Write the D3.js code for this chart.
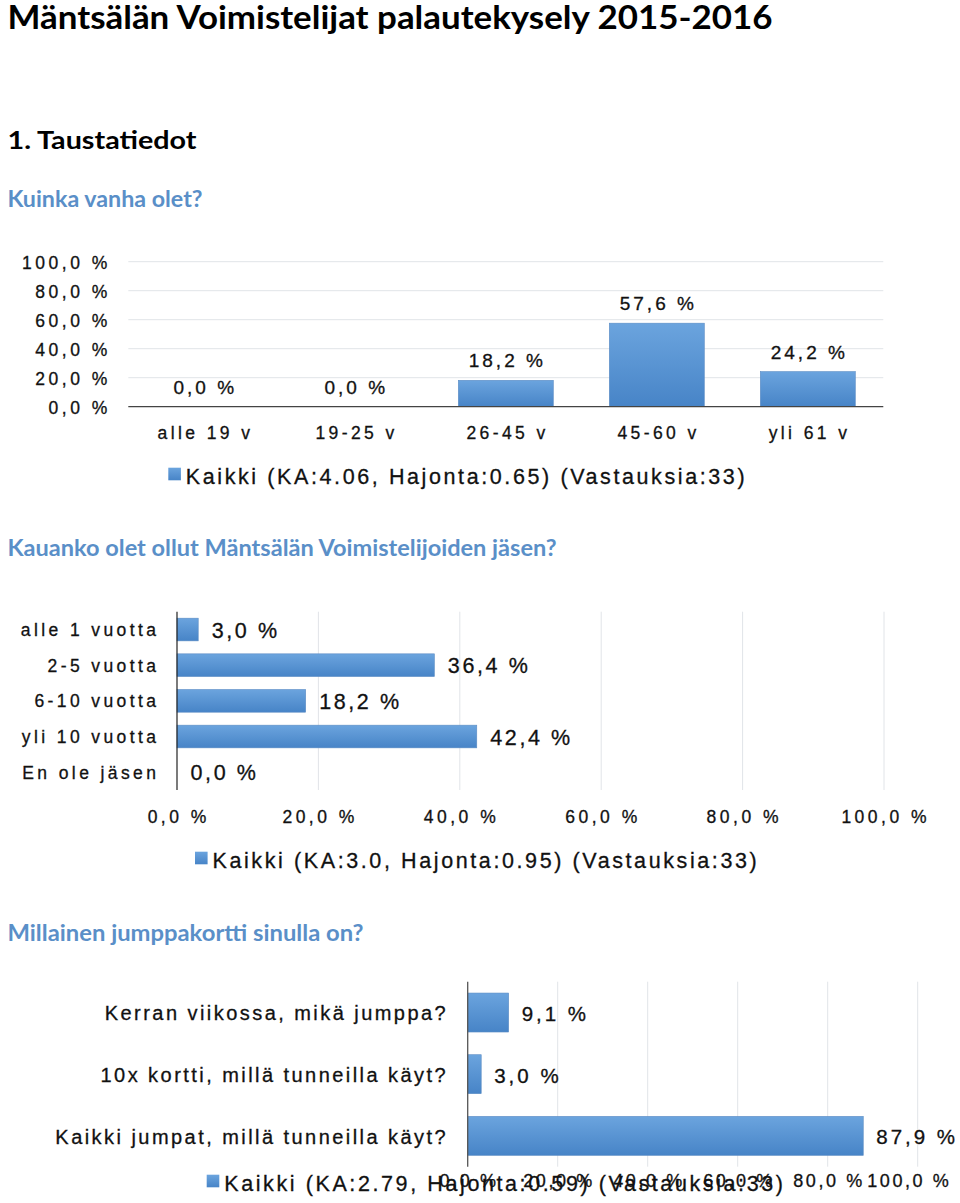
<!DOCTYPE html>
<html>
<head>
<meta charset="utf-8">
<script src="https://cdn.jsdelivr.net/npm/d3@7"></script>
<style>
  html, body { margin: 0; padding: 0; background: #fff; }
  svg { display: block; }
  .hd { font-family: Lato, "Open Sans", sans-serif; font-weight: 700; }
  .ch { font-family: "Liberation Sans", Arial, sans-serif; fill: #111; stroke: #111; stroke-width: 0.3px; }
</style>
</head>
<body>
<svg id="c" width="960" height="1203"></svg>
<script>
// ---------- data ----------
const titleText = "Mäntsälän Voimistelijat palautekysely 2015-2016";
const sectionText = "1.  Taustatiedot";
const q1Text = "Kuinka vanha olet?";
const q2Text = "Kauanko olet ollut Mäntsälän Voimistelijoiden jäsen?";
const q3Text = "Millainen jumppakortti sinulla on?";

const ageCats = ["alle 19 v", "19-25 v", "26-45 v", "45-60 v", "yli 61 v"];
const ageVals = [0.0, 0.0, 18.2, 57.6, 24.2];
const ageTicks = [0, 20, 40, 60, 80, 100];
const ageLegend = "Kaikki (KA:4.06, Hajonta:0.65) (Vastauksia:33)";

const memberCats = ["alle 1 vuotta", "2-5 vuotta", "6-10 vuotta", "yli 10 vuotta", "En ole jäsen"];
const memberVals = [3.0, 36.4, 18.2, 42.4, 0.0];
const memberTicks = [0, 20, 40, 60, 80, 100];
const memberLegend = "Kaikki (KA:3.0, Hajonta:0.95) (Vastauksia:33)";

const cardCats = ["Kerran viikossa, mikä jumppa?", "10x kortti, millä tunneilla käyt?", "Kaikki jumpat, millä tunneilla käyt?"];
const cardVals = [9.1, 3.0, 87.9];
const cardTicks = [0, 20, 40, 60, 80, 100];
const cardLegend = "Kaikki (KA:2.79, Hajonta:0.59) (Vastauksia:33)";

// ---------- helpers ----------
const pct = v => d3.format(".1f")(v).replace(".", ",") + " %";
const svg = d3.select("#c");
const HEAD_BLUE = "#5a8fc8";
const GRID = "#e1e4e8";

const defs = svg.append("defs");
const grad = defs.append("linearGradient").attr("id", "barg").attr("x1", 0).attr("y1", 0).attr("x2", 0).attr("y2", 1);
grad.append("stop").attr("offset", "0%").attr("stop-color", "#6ba4de");
grad.append("stop").attr("offset", "100%").attr("stop-color", "#4784c7");

function heading(text, x, y, size, color, width) {
  const t = svg.append("text").attr("class", "hd").attr("x", x).attr("y", y)
    .attr("font-size", size).attr("fill", color).text(text);
  if (width) t.attr("textLength", width).attr("lengthAdjust", "spacingAndGlyphs");
  return t;
}
function ctext(g, text, x, y, size, ls, anchor) {
  let ax = x;
  if (anchor === "end") ax = x + ls;
  else if (anchor === "middle") ax = x + ls / 2;
  return g.append("text").attr("class", "ch").attr("x", ax).attr("y", y)
    .attr("font-size", size).style("letter-spacing", ls + "px")
    .attr("text-anchor", anchor || "start").text(text);
}
function legend(x, y, text) {
  const g = svg.append("g");
  g.append("rect").attr("x", x).attr("y", y - 16).attr("width", 12.6).attr("height", 12.6).attr("fill", "url(#barg)");
  ctext(g, text, x + 17.5, y, 21.5, 2.6, "start");
}

// ---------- headings ----------
heading(titleText, 7.5, 29.3, 32.5, "#000", 765);
heading(sectionText, 7.5, 149, 25.5, "#000", 189);
heading(q1Text, 7.5, 206.7, 22.5, HEAD_BLUE, 195);
heading(q2Text, 7.5, 556, 22.5, HEAD_BLUE, 549);
heading(q3Text, 7.5, 941, 22.5, HEAD_BLUE, 356);

// ---------- chart 1: columns ----------
{
  const g = svg.append("g");
  const x = d3.scaleBand().domain(ageCats).range([128.3, 883.3]).paddingInner(0.371).paddingOuter(0.1855);
  const y = d3.scaleLinear().domain([0, 100]).range([406.7, 261.7]);
  g.selectAll("line.grid").data(ageTicks.filter(t => t > 0)).join("line")
    .attr("x1", 128.3).attr("x2", 883.3).attr("y1", d => y(d)).attr("y2", d => y(d))
    .attr("stroke", GRID).attr("stroke-width", 1);
  ageTicks.forEach(t => ctext(g, pct(t), 107.3, y(t) + 7.3, 17.5, 3.5, "end"));
  g.selectAll("rect.bar").data(ageVals).join("rect")
    .attr("x", (d, i) => x(ageCats[i])).attr("width", x.bandwidth())
    .attr("y", d => y(d)).attr("height", d => y(0) - y(d))
    .attr("fill", "url(#barg)").attr("stroke", "#5b8cc4").attr("stroke-width", 0.6);
  g.append("line").attr("x1", 128.3).attr("x2", 883.3).attr("y1", y(0)).attr("y2", y(0))
    .attr("stroke", "#444").attr("stroke-width", 1.3);
  ageVals.forEach((v, i) => ctext(g, pct(v), x(ageCats[i]) + x.bandwidth() / 2, y(v) - 13, 19, 3.0, "middle"));
  ageCats.forEach(c => ctext(g, c, x(c) + x.bandwidth() / 2, 439.3, 17.5, 3.4, "middle"));
  legend(168.3, 483.7, ageLegend);
}

// ---------- chart 2: horizontal bars ----------
{
  const g = svg.append("g");
  const x = d3.scaleLinear().domain([0, 100]).range([177, 884]);
  const y = d3.scaleBand().domain(memberCats).range([611.7, 790]).paddingInner(0.364).paddingOuter(0.182);
  g.selectAll("line.grid").data(memberTicks.filter(t => t > 0)).join("line")
    .attr("x1", d => x(d)).attr("x2", d => x(d)).attr("y1", 611.7).attr("y2", 790)
    .attr("stroke", GRID).attr("stroke-width", 1);
  g.selectAll("rect.bar").data(memberVals).join("rect")
    .attr("x", x(0)).attr("width", d => x(d) - x(0))
    .attr("y", (d, i) => y(memberCats[i])).attr("height", y.bandwidth())
    .attr("fill", "url(#barg)").attr("stroke", "#5b8cc4").attr("stroke-width", d => d > 0 ? 0.6 : 0);
  g.append("line").attr("x1", x(0)).attr("x2", x(0)).attr("y1", 611.7).attr("y2", 790)
    .attr("stroke", "#222").attr("stroke-width", 1.2);
  memberCats.forEach(c => ctext(g, c, 156, y(c) + y.bandwidth() / 2 + 6.5, 17.5, 3.4, "end"));
  memberVals.forEach((v, i) => ctext(g, pct(v), x(v) + 13.5, y(memberCats[i]) + y.bandwidth() / 2 + 8, 21.5, 2.6, "start"));
  memberTicks.forEach(t => ctext(g, pct(t), x(t), 822.7, 17.5, 3.5, "middle"));
  legend(195, 867.7, memberLegend);
}

// ---------- chart 3: horizontal bars ----------
{
  const g = svg.append("g");
  const x = d3.scaleLinear().domain([0, 100]).range([467.7, 917.7]);
  const y = d3.scaleBand().domain(cardCats).range([981.7, 1166.7]).paddingInner(0.368).paddingOuter(0.184);
  g.selectAll("line.grid").data(cardTicks.filter(t => t > 0)).join("line")
    .attr("x1", d => x(d)).attr("x2", d => x(d)).attr("y1", 981.7).attr("y2", 1166.7)
    .attr("stroke", GRID).attr("stroke-width", 1);
  g.selectAll("rect.bar").data(cardVals).join("rect")
    .attr("x", x(0)).attr("width", d => x(d) - x(0))
    .attr("y", (d, i) => y(cardCats[i])).attr("height", y.bandwidth())
    .attr("fill", "url(#barg)").attr("stroke", "#5b8cc4").attr("stroke-width", 0.6);
  g.append("line").attr("x1", x(0)).attr("x2", x(0)).attr("y1", 981.7).attr("y2", 1166.7)
    .attr("stroke", "#555").attr("stroke-width", 1.3);
  cardCats.forEach(c => ctext(g, c, 445.7, y(c) + y.bandwidth() / 2 + 7.8, 20, 2.45, "end"));
  cardVals.forEach((v, i) => ctext(g, pct(v), x(v) + 13, y(cardCats[i]) + y.bandwidth() / 2 + 8.5, 20.5, 3, "start"));
  legend(206.7, 1190.7, cardLegend);
  cardTicks.forEach(t => ctext(g, pct(t), Math.min(x(t), 908), 1187, 18, 2.6, "middle"));
}
</script>
</body>
</html>
